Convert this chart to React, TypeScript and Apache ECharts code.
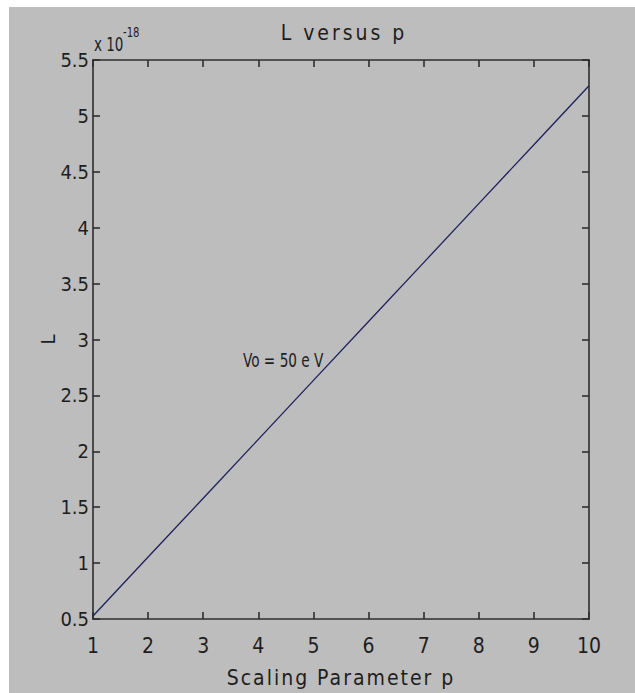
import React, { useEffect, useRef } from "react";
import * as echarts from "echarts";

// Scaling parameter p and the resulting L (in units of 1e-18)
const P_VALUES = [1, 2, 3, 4, 5, 6, 7, 8, 9, 10];
const L_VALUES = [0.527, 1.054, 1.58, 2.107, 2.634, 3.161, 3.688, 4.215, 4.742, 5.27];
const Y_EXPONENT = "-18";

const TITLE = "L versus p";
const X_NAME = "Scaling Parameter p";
const Y_NAME = "L";
const NOTE = "Vo = 50 e V";

const FONT = "'Liberation Sans Narrow', 'DejaVu Sans Condensed', 'Arial Narrow', 'Liberation Sans', sans-serif";
const BG = "#bdbdbd";
const INK = "#1e1e1e";
const AXIS = "#2e2e2e";
const LINE = "#1f1f5e";

// extra tracking applied to the spaced-out labels after rendering
const TRACKING: Record<string, number> = {
  [TITLE]: 3,
  [X_NAME]: 2,
};

export default function App() {
  const ref = useRef<HTMLDivElement>(null);

  useEffect(() => {
    const el = ref.current;
    if (!el) return;
    const chart = echarts.init(el, undefined, { renderer: "svg" });

    const axisCommon = {
      type: "value" as const,
      axisLine: { show: true, lineStyle: { color: AXIS, width: 1.6 } },
      axisTick: { show: true, inside: true, length: 7, lineStyle: { color: AXIS, width: 1.6 } },
      splitLine: { show: false },
    };
    const labelStyle = { color: INK, fontFamily: FONT, fontSize: 20 };

    chart.setOption({
      animation: false,
      backgroundColor: BG,
      textStyle: { fontFamily: FONT },
      title: {
        text: TITLE,
        left: 330,
        top: 10,
        textAlign: "center",
        textStyle: { color: INK, fontFamily: FONT, fontSize: 21, fontWeight: "normal" },
      },
      grid: { left: 84, top: 53, width: 496, height: 562, containLabel: false },
      xAxis: [
        {
          ...axisCommon,
          position: "bottom",
          min: 1,
          max: 10,
          interval: 1,
          axisLabel: { ...labelStyle, fontSize: 21, margin: 16 },
          name: X_NAME,
          nameLocation: "middle",
          nameGap: 48,
          nameMoveOverlap: false,
          nameTextStyle: { color: INK, fontFamily: FONT, fontSize: 21 },
        },
        {
          ...axisCommon,
          position: "top",
          min: 1,
          max: 10,
          interval: 1,
          axisLabel: { show: false },
        },
      ],
      yAxis: [
        {
          ...axisCommon,
          position: "left",
          min: 0.5,
          max: 5.5,
          interval: 0.5,
          axisLabel: { ...labelStyle, margin: 4 },
          name: Y_NAME,
          nameLocation: "middle",
          nameGap: 35,
          nameRotate: 90,
          nameMoveOverlap: false,
          nameTextStyle: { color: INK, fontFamily: FONT, fontSize: 20 },
        },
        {
          ...axisCommon,
          position: "right",
          min: 0.5,
          max: 5.5,
          interval: 0.5,
          axisLabel: { show: false },
        },
      ],
      series: [
        {
          type: "line",
          xAxisIndex: 0,
          yAxisIndex: 0,
          data: P_VALUES.map((p, i) => [p, L_VALUES[i]]),
          symbol: "none",
          lineStyle: { color: LINE, width: 1.3 },
          silent: true,
        },
      ],
      graphic: [
        {
          type: "text",
          x: 85,
          y: 37,
          scaleX: 0.75,
          style: { text: "x 10", fill: INK, font: `20px ${FONT}`, align: "left", verticalAlign: "middle" },
        },
        {
          type: "text",
          x: 114,
          y: 25,
          scaleX: 0.8,
          style: { text: Y_EXPONENT, fill: INK, font: `14px ${FONT}`, align: "left", verticalAlign: "middle" },
        },
        {
          type: "text",
          x: 234,
          y: 353,
          scaleX: 0.76,
          style: { text: NOTE, fill: INK, font: `20px ${FONT}`, align: "left", verticalAlign: "middle" },
        },
      ],
    });

    const track = () => {
      el.querySelectorAll("text").forEach((t) => {
        const ls = TRACKING[(t.textContent || "").trim()];
        if (ls) t.setAttribute("letter-spacing", String(ls));
      });
    };
    track();
    chart.on("finished", track);

    return () => {
      chart.dispose();
    };
  }, []);

  return (
    <div
      ref={ref}
      style={{ position: "absolute", left: 9, top: 7, width: 626, height: 686 }}
    />
  );
}
